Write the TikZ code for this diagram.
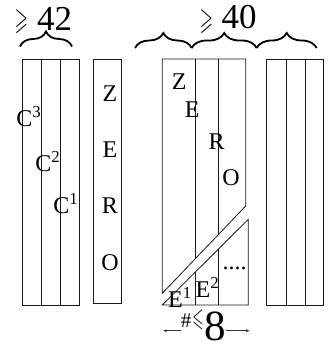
\documentclass[tikz,border=0pt]{standalone}
\usepackage{amssymb}
\usepackage{graphicx}
\usepackage{fontspec}
\setmainfont{Liberation Serif}
\usetikzlibrary{arrows.meta,calc,decorations.pathreplacing}
\tikzset{
  stripline/.style={draw=black!90,line width=0.8pt},
  bigletter/.style={font=\fontsize{24}{24}\selectfont,inner sep=0pt},
  clabel/.style={font=\fontsize{24}{24}\selectfont,inner sep=0pt,anchor=east},
  bignum/.style={font=\fontsize{35}{36}\selectfont,inner sep=0pt},
  geqmark/.style={font=\fontsize{24}{24}\selectfont,inner sep=0pt},
  bracemark/.style={decorate,decoration={brace,amplitude=15pt},line width=1.8pt},
  widtharrow/.style={-{Latex[length=4pt,width=3pt]},line width=0.7pt,draw=black!80}
}
\begin{document}
\begin{tikzpicture}[x=1pt,y=1pt]
  \useasboundingbox (0,0) rectangle (328,348);
  % left strips
  \draw[stripline] (22.7,43) rectangle (79.7,289);
  \draw[stripline] (41.7,43) -- (41.7,289);
  \draw[stripline] (60.7,43) -- (60.7,289);
  \node[clabel] (cthree) at (41.5,231) {C\textsuperscript{3}};
  \node[clabel] (ctwo) at (60.5,186) {C\textsuperscript{2}};
  \node[clabel] (cone) at (78.5,144) {C\textsuperscript{1}};
  % zero column
  \draw[stripline] (93.3,45) rectangle (121,289);
  \node[bigletter] (zz) at (110,254) {Z};
  \node[bigletter] (ze) at (110,198) {E};
  \node[bigletter] (zr) at (110,142) {R};
  \node[bigletter] (zo) at (110,85) {O};
  % split block
  \draw[stripline] (162.3,289) -- (245.7,289) -- (245.7,142) -- (162.3,54.7) -- cycle;
  \draw[stripline] (162.3,43) -- (248.3,128.7) -- (248.3,43) -- cycle;
  \draw[stripline] (195,289) -- (195,88.9);
  \draw[stripline] (218.3,289) -- (218.3,113.3);
  \draw[stripline] (195,75.6) -- (195,43);
  \draw[stripline] (218.3,98.8) -- (218.3,43);
  \node[bigletter] (dz) at (179.3,266.3) {Z};
  \node[bigletter] (de) at (192.3,238.7) {E};
  \node[bigletter] (dr) at (216.7,206.3) {R};
  \node[bigletter] (do) at (231,170.3) {O};
  \node[bigletter] (eone) at (180,50.5) {E\textsuperscript{1}};
  \node[bigletter] (etwo) at (207.5,60.5) {E\textsuperscript{2}};
  \node[bigletter] (edots) at (234.5,80) {....};
  % right strips
  \draw[stripline] (266.7,43) rectangle (323.7,289);
  \draw[stripline] (286,43) -- (286,289);
  \draw[stripline] (305,43) -- (305,289);
  % braces and bounds
  \draw[bracemark] (20,301.5) -- (72,301.5);
  \draw[bracemark] (135,300) -- (191.7,300);
  \draw[bracemark] (191.7,300) -- (256.7,300);
  \draw[bracemark] (256.7,300) -- (316.7,300);
  \node[geqmark] (geqleft) at (21.5,326.5) {\scalebox{0.7}[1.3]{$\geqslant$}};
  \node[bignum] (nleft) at (54.5,329) {42};
  \node[geqmark] (geqright) at (206.5,326) {\scalebox{0.7}[1.3]{$\geqslant$}};
  \node[bignum] (nright) at (239,331) {40};
  % bottom width
  \node[inner sep=0pt,font=\fontsize{21}{21}\selectfont] (hashsym) at (186,27) {\#};
  \node[geqmark] (leqsym) at (198,28) {\scalebox{0.6}[1.1]{$\leqslant$}};
  \node[inner sep=0pt,font=\fontsize{43}{44}\selectfont] (eightnum) at (215,21.5) {8};
  \coordinate (wleft) at (162.7,17.3);
  \coordinate (wright) at (250,17.3);
  \draw[widtharrow] (hashsym.west |- wleft) -- (wleft);
  \draw[widtharrow] (eightnum.east |- wright) -- (wright);
\end{tikzpicture}
\end{document}
